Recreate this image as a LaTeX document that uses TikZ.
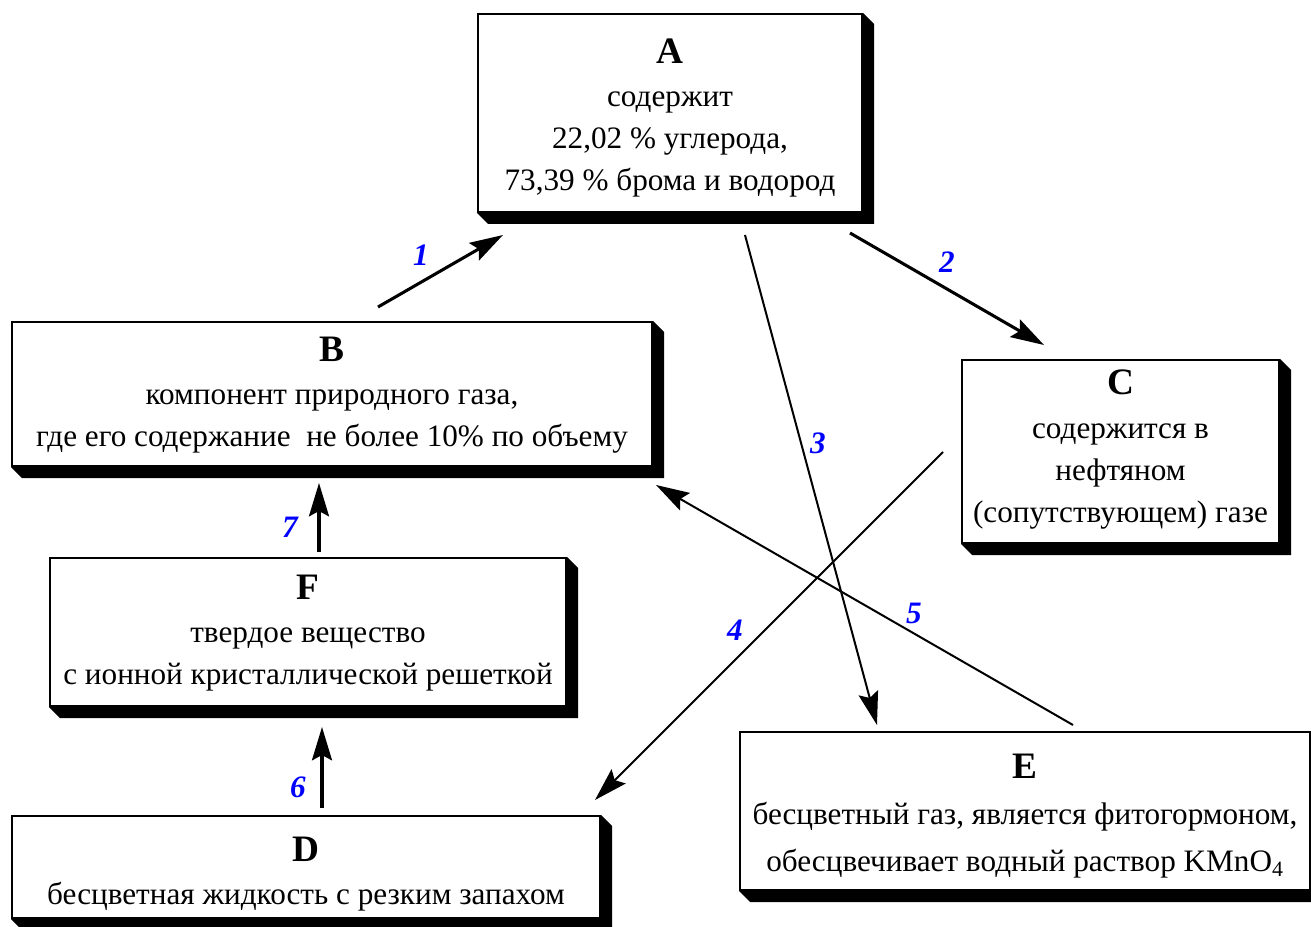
\documentclass[tikz,border=0pt]{standalone}
\usepackage{fontspec}
\setmainfont{Liberation Serif}
\usetikzlibrary{arrows.meta,calc}
\definecolor{lblue}{RGB}{0,0,255}
\newcommand{\hd}[1]{{\fontsize{28}{31.5}\selectfont\bfseries #1}}
\tikzset{
  box/.style={draw, line width=1.5pt, fill=white, inner sep=0pt},
  txt/.style={inner sep=0pt, align=center, font=\fontsize{23.4}{31.5}\selectfont},
  thin arrow/.style={line width=1.5pt, -{Stealth[length=25pt,width=15pt,inset=4pt]}},
  thick arrow/.style={line width=2.3pt, -{Stealth[length=25pt,width=15pt,inset=4pt]}},
  num/.style={text=lblue, font=\fontsize{23.4}{28}\selectfont\bfseries\itshape, inner sep=0pt}
}
\newcommand{\shadowof}[1]{%
  \fill (#1.north east) -- ($(#1.north east)+(11,11)$) -- ($(#1.south east)+(11,11)$)
    -- ($(#1.south west)+(11,11)$) -- (#1.south west) -- (#1.south east) -- cycle;}
\begin{document}
\begin{tikzpicture}[x=0.75pt,y=-0.75pt]
\useasboundingbox (0,0) rectangle (1311,927);
\fill[white] (0,0) rectangle (1311,927);

\node[box, minimum width=288pt, minimum height=148.5pt] (A) at (670,113) {};
\node[box, minimum width=480pt, minimum height=108pt] (B) at (332,394) {};
\node[box, minimum width=237.75pt, minimum height=137.25pt] (C) at (1120.5,451.5) {};
\node[box, minimum width=387pt, minimum height=111pt] (F) at (308,632) {};
\node[box, minimum width=441pt, minimum height=76.5pt] (D) at (306,867) {};
\node[box, minimum width=427.5pt, minimum height=118.5pt] (E) at (1025,811) {};

\shadowof{A}
\shadowof{B}
\shadowof{C}
\shadowof{F}
\shadowof{D}
\shadowof{E}

\node[txt] (At) at ($(A.center)+(0,5)$)
  {\hd{A}\\[1pt] содержит\\ 22,02 \% углерода,\\ 73,39 \% брома и водород};
\node[txt] (Bt) at ($(B.center)+(0,1)$)
  {\hd{B}\\[1pt] компонент природного газа,\\ где его содержание\ \ не более 10\% по объему};
\node[txt] (Ct) at ($(C.center)+(0,-2)$)
  {\hd{C}\\[1pt] содержится в\\ нефтяном\\ (сопутствующем) газе};
\node[txt] (Ft) at ($(F.center)+(0,1)$)
  {\hd{F}\\[1pt] твердое вещество\\ с ионной кристаллической решеткой};
\node[txt] (Dt) at ($(D.center)+(0,7)$)
  {\hd{D}\\[1pt] бесцветная жидкость с резким запахом};
\node[txt, font=\fontsize{23.4}{35}\selectfont] (Et) at ($(E.center)+(0,5)$)
  {\hd{E}\\[0pt] бесцветный газ, является фитогормоном,\\ обесцвечивает водный раствор KMnO\textsubscript{4}};

% arrow end points
\coordinate (s1) at (378,307);  \coordinate (t1) at (503,235);
\coordinate (s2) at (850,233);  \coordinate (t2) at (1044,345);
\coordinate (s3) at (745,235);  \coordinate (t3) at (877,725);
\coordinate (s4) at (943,452);  \coordinate (t4) at (595,800);
\coordinate (s5) at (1073,725); \coordinate (t5) at (656,485);
\coordinate (s6) at (322,808);  \coordinate (t6) at (322,727);
\coordinate (s7) at (319,552);  \coordinate (t7) at (319,483);

\draw[thick arrow] (s1) -- (t1);
\draw[thick arrow] (s2) -- (t2);
\draw[thin arrow] (s3) -- (t3);
\draw[thin arrow] (s4) -- (t4);
\draw[thin arrow] (s5) -- (t5);
\draw[thick arrow] (s6) -- (t6);
\draw[thick arrow] (s7) -- (t7);

\node[num] (n1) at (421,255) {1};
\node[num] (n2) at (947,262) {2};
\node[num] (n3) at (818,443) {3};
\node[num] (n4) at (735,630) {4};
\node[num] (n5) at (914,613) {5};
\node[num] (n6) at (298,787) {6};
\node[num] (n7) at (290,527) {7};
\end{tikzpicture}
\end{document}
